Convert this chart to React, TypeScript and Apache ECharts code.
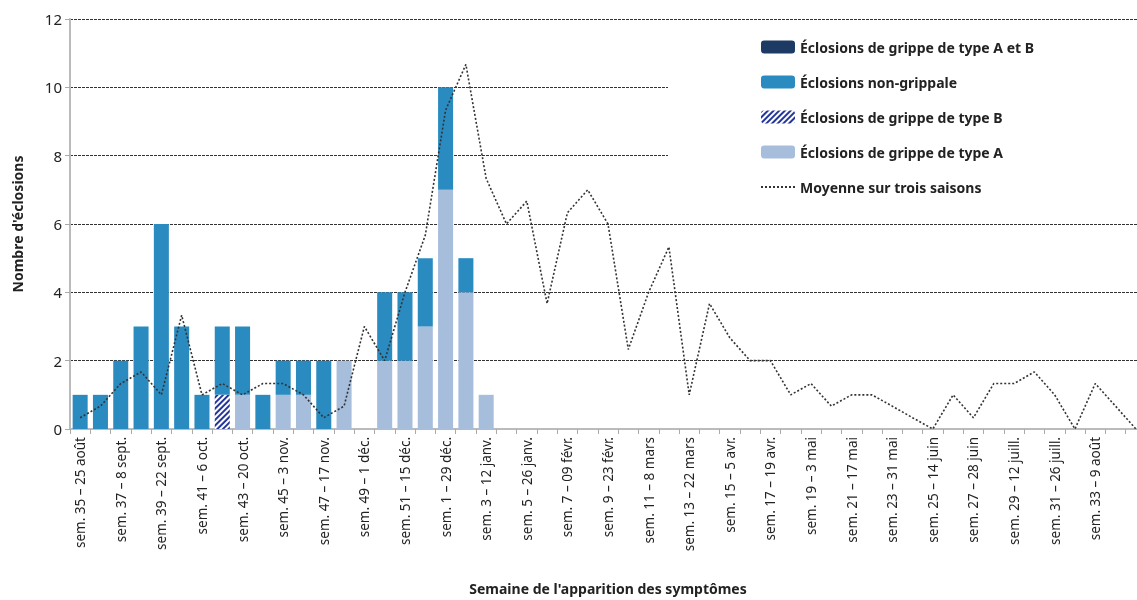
import * as React from "react";
import * as echarts from "echarts";
import { useEffect, useRef } from "react";

const weeks = [
  "sem. 35 – 25 août", "sem. 36 – 1 sept.", "sem. 37 – 8 sept.", "sem. 38 – 15 sept.",
  "sem. 39 – 22 sept.", "sem. 40 – 29 sept.", "sem. 41 – 6 oct.", "sem. 42 – 13 oct.",
  "sem. 43 – 20 oct.", "sem. 44 – 27 oct.", "sem. 45 – 3 nov.", "sem. 46 – 10 nov.",
  "sem. 47 – 17 nov.", "sem. 48 – 24 nov.", "sem. 49 – 1 déc.", "sem. 50 – 8 déc.",
  "sem. 51 – 15 déc.", "sem. 52 – 22 déc.", "sem. 1 – 29 déc.", "sem. 2 – 5 janv.",
  "sem. 3 – 12 janv.", "sem. 4 – 19 janv.", "sem. 5 – 26 janv.", "sem. 6 – 02 févr.",
  "sem. 7 – 09 févr.", "sem. 8 – 16 févr.", "sem. 9 – 23 févr.", "sem. 10 – 1 mars",
  "sem. 11 – 8 mars", "sem. 12 – 15 mars", "sem. 13 – 22 mars", "sem. 14 – 29 mars",
  "sem. 15 – 5 avr.", "sem. 16 – 12 avr.", "sem. 17 – 19 avr.", "sem. 18 – 26 avr.",
  "sem. 19 – 3 mai", "sem. 20 – 10 mai", "sem. 21 – 17 mai", "sem. 22 – 24 mai",
  "sem. 23 – 31 mai", "sem. 24 – 7 juin", "sem. 25 – 14 juin", "sem. 26 – 21 juin",
  "sem. 27 – 28 juin", "sem. 28 – 5 juill.", "sem. 29 – 12 juill.", "sem. 30 – 19 juill.",
  "sem. 31 – 26 juill.", "sem. 32 – 2 août", "sem. 33 – 9 août", "sem. 34 – 16 août",
  "sem. 35 – 23 août",
];

const typeA = [0, 0, 0, 0, 0, 0, 0, 0, 1, 0, 1, 1, 0, 2, 0, 2, 2, 3, 7, 4, 1];
const typeB = [0, 0, 0, 0, 0, 0, 0, 1, 0, 0, 0, 0, 0, 0, 0, 0, 0, 0, 0, 0, 0];
const nonGrippale = [1, 1, 2, 3, 6, 3, 1, 2, 2, 1, 1, 1, 2, 0, 0, 2, 2, 2, 3, 1, 0];
const typeAB: number[] = [];
const moyenne = [
  0.33, 0.67, 1.33, 1.67, 1.0, 3.33, 1.0, 1.33, 1.0, 1.33, 1.33, 1.0, 0.33, 0.67, 3.0,
  2.0, 4.0, 5.67, 9.33, 10.67, 7.33, 6.0, 6.67, 3.67, 6.33, 7.0, 6.0, 2.33, 4.0, 5.33,
  1.0, 3.67, 2.67, 2.0, 2.0, 1.0, 1.33, 0.67, 1.0, 1.0, 0.67, 0.33, 0, 1.0, 0.33, 1.33,
  1.33, 1.67, 1.0, 0, 1.33, 0.67, 0,
];

const font = "'Noto Sans', sans-serif";

const App = () => {
  const chartRef = useRef<HTMLDivElement>(null);

  useEffect(() => {
    if (!chartRef.current) return;
    const chart = echarts.init(chartRef.current, null, { renderer: "svg" });
    const bar = (name: string, data: number[], color: string, extra: any = {}) => ({
      name,
      type: "bar",
      stack: "total",
      barWidth: "74%",
      data,
      itemStyle: { color, ...extra },
      z: 3,
    });
    const option = {
      animation: false,
      textStyle: { fontFamily: font },
      grid: { left: 70, right: 14, top: 19, bottom: 161 },
      legend: {
        orient: "vertical",
        left: 755,
        top: 35,
        itemWidth: 34,
        itemHeight: 13,
        itemGap: 21,
        z: 5,
        textStyle: { fontFamily: font, fontSize: 14, fontWeight: "bold", color: "#222" },
        data: [
          "Éclosions de grippe de type A et B",
          "Éclosions non-grippale",
          "Éclosions de grippe de type B",
          "Éclosions de grippe de type A",
          { name: "Moyenne sur trois saisons", itemStyle: { opacity: 0 } },
        ],
      },
      graphic: [
        {
          type: "rect",
          left: 668,
          top: 30,
          z: 1,
          shape: { width: 480, height: 178 },
          style: { fill: "#fff" },
        },
      ],
      xAxis: {
        type: "category",
        data: weeks,
        name: "Semaine de l'apparition des symptômes",
        nameLocation: "middle",
        nameGap: 152,
        nameTextStyle: { fontFamily: font, fontSize: 14, fontWeight: "bold", color: "#222" },
        axisLine: { lineStyle: { color: "#bbb", width: 2 } },
        axisTick: { show: true, alignWithLabel: false, interval: 0, lineStyle: { color: "#aaa" } },
        axisLabel: {
          interval: 1,
          rotate: 90,
          fontSize: 13.5,
          color: "#222",
          margin: 8,
          showMaxLabel: false,
        },
      },
      yAxis: {
        type: "value",
        min: 0,
        max: 12,
        interval: 2,
        name: "Nombre d'éclosions",
        nameLocation: "middle",
        nameGap: 46,
        nameTextStyle: { fontFamily: font, fontSize: 14, fontWeight: "bold", color: "#222" },
        axisLine: { show: true, lineStyle: { color: "#bbb", width: 2 } },
        axisTick: { show: true, lineStyle: { color: "#aaa" } },
        axisLabel: { fontSize: 15, color: "#222" },
        splitLine: { lineStyle: { color: "#333", type: [3, 1], width: 1 } },
      },
      series: [
        bar("Éclosions de grippe de type A", typeA, "#a6bddc"),
        bar("Éclosions de grippe de type B", typeB, "#ffffff", {
          decal: {
            color: "#25369a",
            backgroundColor: "#ffffff",
            dashArrayX: [1, 0],
            dashArrayY: [2, 2],
            rotation: -Math.PI / 4,
          },
        }),
        bar("Éclosions non-grippale", nonGrippale, "#2a8bc0"),
        bar("Éclosions de grippe de type A et B", typeAB, "#1c3a63"),
        {
          name: "Moyenne sur trois saisons",
          type: "line",
          data: moyenne,
          symbol: "none",
          z: 4,
          lineStyle: { color: "#333", width: 1.6, type: [2, 2] },
          itemStyle: { color: "#333" },
        },
      ],
    };
    chart.setOption(option as any);
    return () => {
      chart.dispose();
    };
  }, []);

  return (
    <div style={{ position: "fixed", left: 0, top: 0, width: 1137, height: 600, overflow: "hidden" }}>
      <div ref={chartRef} style={{ width: 1160, height: 600 }} />
    </div>
  );
};

export default App;
